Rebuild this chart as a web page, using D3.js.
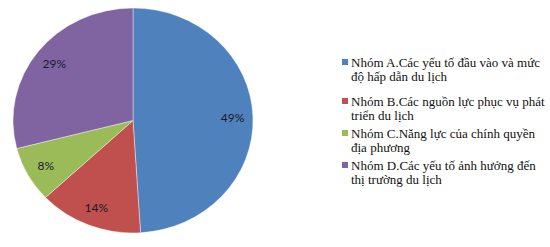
<!DOCTYPE html>
<html>
<head>
<meta charset="utf-8">
<script src="https://cdn.jsdelivr.net/npm/d3@7"></script>
<style>
  body { margin: 0; background: #fff; }
  svg { display: block; }
  .legend text { font-family: "Liberation Serif", "Times New Roman", serif; font-size: 13px; fill: #111; }
  .pct { font-family: Lato, "Open Sans", sans-serif; font-size: 12px; fill: #1a1a2a; }
</style>
</head>
<body>
<div id="chart"></div>
<script>
var groups = ["Nhóm A", "Nhóm B", "Nhóm C", "Nhóm D"];
var shares = [49, 14, 8, 29];
var colors = ["#4F81BD", "#C0504D", "#9BBB59", "#8064A2"];
var legendLines = [
	["Nhóm A.Các yếu tố đầu vào và mức", "độ hấp dẫn du lịch"],
	["Nhóm B.Các nguồn lực phục vụ phát", "triển du lịch"],
	["Nhóm C.Năng lực của chính quyền", "địa phương"],
	["Nhóm D.Các yếu tố ảnh hưởng đến", "thị trường du lịch"]
];

var width = 550,
	height = 247,
	cx = 133, cy = 120.5,
	radius = 112.5,
	stretch = 120 / 112.5; // the pie is a bit wider than tall

var svg = d3.select("#chart")
	.append("svg")
	.attr("width", width)
	.attr("height", height);

var data = groups.map(function(g, i) { return { name: g, value: shares[i], color: colors[i], lines: legendLines[i] }; });

var pie = d3.pie().sort(null).value(function(d) { return d.value; });
var arcs = pie(data);

var arc = d3.arc().innerRadius(0).outerRadius(radius);
var labelArc = d3.arc().innerRadius(radius * 0.83).outerRadius(radius * 0.83);

var g = svg.append("g")
	.attr("transform", "translate(" + cx + "," + cy + ") scale(" + stretch + ",1)");

g.selectAll("path")
	.data(arcs)
	.enter()
	.append("path")
	.attr("d", arc)
	.attr("fill", function(d) { return d.data.color; })
	.attr("stroke", "#fff")
	.attr("stroke-width", 0.4);

svg.selectAll("text.pct")
	.data(arcs)
	.enter()
	.append("text")
	.attr("class", "pct")
	.attr("x", function(d) { return cx + labelArc.centroid(d)[0] * stretch; })
	.attr("y", function(d) { return cy + labelArc.centroid(d)[1]; })
	.attr("text-anchor", "middle")
	.attr("dominant-baseline", "central")
	.text(function(d) { return d.data.value + "%"; });

// legend
var legendY = [62, 101, 133, 165],
	lineGap = 14.5;

var item = svg.selectAll("g.legend")
	.data(data)
	.enter()
	.append("g")
	.attr("class", "legend")
	.attr("transform", function(d, i) { return "translate(342," + legendY[i] + ")"; });

item.append("rect")
	.attr("x", 0)
	.attr("y", -3)
	.attr("width", 6)
	.attr("height", 6)
	.attr("fill", function(d) { return d.color; });

item.append("text")
	.selectAll("tspan")
	.data(function(d) { return d.lines; })
	.enter()
	.append("tspan")
	.attr("x", 9)
	.attr("y", function(d, i) { return i * lineGap; })
	.attr("dy", "0.35em")
	.text(function(d) { return d; });
</script>
</body>
</html>
